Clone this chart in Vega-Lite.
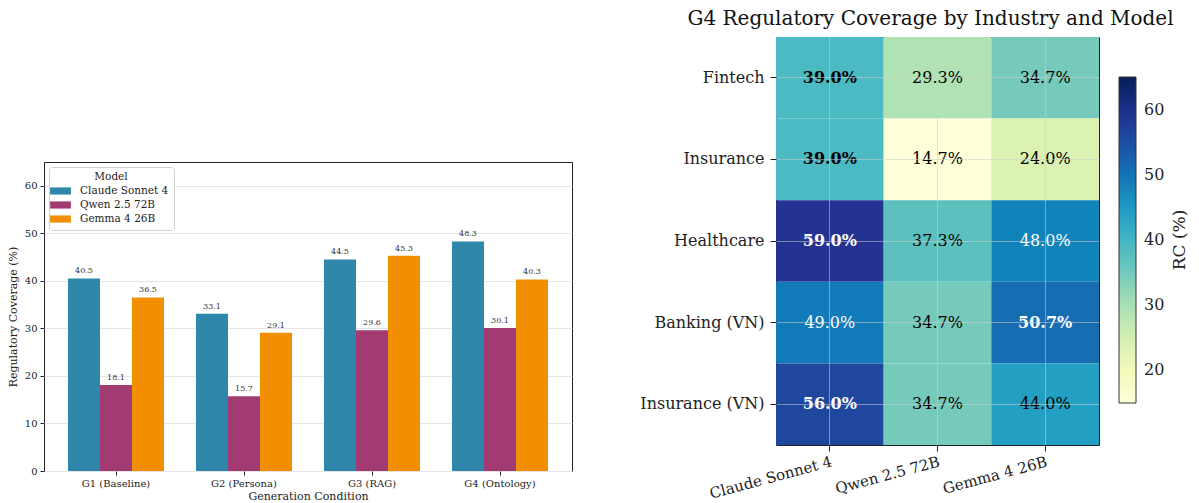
{
  "$schema": "https://vega.github.io/schema/vega-lite/v6.json",
  "padding": {"left": 6, "top": 8, "right": 0, "bottom": 0},
  "background": "white",
  "config": {
    "font": "DejaVu Serif",
    "view": {"stroke": "#222", "strokeWidth": 1},
    "axis": {"labelColor": "#222", "titleColor": "#222", "tickColor": "#222", "domainColor": "#222", "titleFontWeight": "normal"}
  },
  "datasets": {
    "bars": [
      {"condition": "G1 (Baseline)", "model": "Claude Sonnet 4", "rc": 40.5},
      {"condition": "G1 (Baseline)", "model": "Qwen 2.5 72B", "rc": 18.1},
      {"condition": "G1 (Baseline)", "model": "Gemma 4 26B", "rc": 36.5},
      {"condition": "G2 (Persona)", "model": "Claude Sonnet 4", "rc": 33.1},
      {"condition": "G2 (Persona)", "model": "Qwen 2.5 72B", "rc": 15.7},
      {"condition": "G2 (Persona)", "model": "Gemma 4 26B", "rc": 29.1},
      {"condition": "G3 (RAG)", "model": "Claude Sonnet 4", "rc": 44.5},
      {"condition": "G3 (RAG)", "model": "Qwen 2.5 72B", "rc": 29.6},
      {"condition": "G3 (RAG)", "model": "Gemma 4 26B", "rc": 45.3},
      {"condition": "G4 (Ontology)", "model": "Claude Sonnet 4", "rc": 48.3},
      {"condition": "G4 (Ontology)", "model": "Qwen 2.5 72B", "rc": 30.1},
      {"condition": "G4 (Ontology)", "model": "Gemma 4 26B", "rc": 40.3}
    ],
    "heat": [
      {"industry": "Fintech", "model": "Claude Sonnet 4", "rc": 39.0},
      {"industry": "Fintech", "model": "Qwen 2.5 72B", "rc": 29.3},
      {"industry": "Fintech", "model": "Gemma 4 26B", "rc": 34.7},
      {"industry": "Insurance", "model": "Claude Sonnet 4", "rc": 39.0},
      {"industry": "Insurance", "model": "Qwen 2.5 72B", "rc": 14.7},
      {"industry": "Insurance", "model": "Gemma 4 26B", "rc": 24.0},
      {"industry": "Healthcare", "model": "Claude Sonnet 4", "rc": 59.0},
      {"industry": "Healthcare", "model": "Qwen 2.5 72B", "rc": 37.3},
      {"industry": "Healthcare", "model": "Gemma 4 26B", "rc": 48.0},
      {"industry": "Banking (VN)", "model": "Claude Sonnet 4", "rc": 49.0},
      {"industry": "Banking (VN)", "model": "Qwen 2.5 72B", "rc": 34.7},
      {"industry": "Banking (VN)", "model": "Gemma 4 26B", "rc": 50.7},
      {"industry": "Insurance (VN)", "model": "Claude Sonnet 4", "rc": 56.0},
      {"industry": "Insurance (VN)", "model": "Qwen 2.5 72B", "rc": 34.7},
      {"industry": "Insurance (VN)", "model": "Gemma 4 26B", "rc": 44.0}
    ],
    "empty": []
  },
  "resolve": {"scale": {"color": "independent"}, "legend": {"color": "independent"}},
  "spacing": 66,
  "hconcat": [
    {
      "spacing": 0,
      "resolve": {"scale": {"color": "independent"}, "legend": {"color": "independent"}},
      "vconcat": [
        {
          "width": 20,
          "height": 124,
          "data": {"name": "empty"},
          "view": {"stroke": null},
          "mark": {"type": "rule"},
          "encoding": {}
        },
        {
          "width": 528,
          "height": 309,
          "data": {"name": "bars"},
          "encoding": {
            "x": {
              "field": "condition", "type": "nominal",
              "sort": ["G1 (Baseline)", "G2 (Persona)", "G3 (RAG)", "G4 (Ontology)"],
              "scale": {"paddingInner": 0.25, "paddingOuter": 0.1875},
              "axis": {"title": "Generation Condition", "labelAngle": 0, "labelFontSize": 10, "titleFontSize": 11, "tickSize": 4, "labelPadding": 3, "titlePadding": 2, "domain": false}
            },
            "xOffset": {
              "field": "model", "type": "nominal",
              "sort": ["Claude Sonnet 4", "Qwen 2.5 72B", "Gemma 4 26B"],
              "scale": {"paddingInner": 0, "paddingOuter": 0}
            },
            "y": {
              "field": "rc", "type": "quantitative",
              "scale": {"domain": [0, 65], "nice": false},
              "axis": {"title": "Regulatory Coverage (%)", "values": [0, 10, 20, 30, 40, 50, 60], "labelFontSize": 10, "titleFontSize": 11, "tickSize": 4, "labelPadding": 3, "titlePadding": 6, "domain": false, "grid": true, "gridColor": "#e4e4e4", "gridWidth": 1}
            }
          },
          "layer": [
            {
              "mark": {"type": "bar"},
              "encoding": {
                "color": {
                  "field": "model", "type": "nominal",
                  "sort": ["Claude Sonnet 4", "Qwen 2.5 72B", "Gemma 4 26B"],
                  "scale": {"domain": ["Claude Sonnet 4", "Qwen 2.5 72B", "Gemma 4 26B"], "range": ["#2e86ab", "#a23b72", "#f18f01"]},
                  "legend": {
                    "title": "Model", "orient": "top-left", "offset": 5,
                    "fillColor": "white", "strokeColor": "#d0d0d0", "cornerRadius": 3, "padding": 5,
                    "titleAnchor": "middle", "titleFontSize": 10.5, "titleFontWeight": "normal", "titleColor": "#222", "titlePadding": 2,
                    "labelFontSize": 10.5, "labelColor": "#222",
                    "symbolType": "M-1.6,-0.55H1.6V0.55H-1.6Z", "symbolSize": 169, "symbolStrokeWidth": 0, "symbolOpacity": 1,
                    "rowPadding": 2, "labelOffset": 13
                  }
                }
              }
            },
            {
              "mark": {"type": "text", "baseline": "bottom", "dy": -3, "fontSize": 8, "color": "#333"},
              "encoding": {"text": {"field": "rc", "type": "quantitative", "format": ".1f"}}
            }
          ]
        }
      ]
    },
    {
      "width": 323,
      "height": 408,
      "title": {"text": "G4 Regulatory Coverage by Industry and Model", "fontSize": 20, "fontWeight": "normal", "anchor": "middle", "offset": 8, "dx": -7, "color": "#111"},
      "data": {"name": "heat"},
      "transform": [{"joinaggregate": [{"op": "max", "field": "rc", "as": "rowmax"}], "groupby": ["industry"]}],
      "encoding": {
        "x": {
          "field": "model", "type": "nominal",
          "sort": ["Claude Sonnet 4", "Qwen 2.5 72B", "Gemma 4 26B"],
          "scale": {"paddingInner": 0, "paddingOuter": 0},
          "axis": {"title": null, "labelAngle": -15, "labelAlign": "right", "labelBaseline": "top", "labelFontSize": 15, "labelPadding": 3, "tickSize": 6, "domain": false, "grid": true, "bandPosition": 0.5, "gridColor": "#cccccc", "gridOpacity": 0.55, "zindex": 1}
        },
        "y": {
          "field": "industry", "type": "nominal",
          "sort": ["Fintech", "Insurance", "Healthcare", "Banking (VN)", "Insurance (VN)"],
          "scale": {"paddingInner": 0, "paddingOuter": 0},
          "axis": {"title": null, "labelFontSize": 16, "labelPadding": 6, "tickSize": 6, "domain": false, "grid": true, "bandPosition": 0.5, "gridColor": "#cccccc", "gridOpacity": 0.55, "zindex": 1}
        }
      },
      "layer": [
        {
          "mark": {"type": "rect"},
          "encoding": {
            "color": {
              "field": "rc", "type": "quantitative",
              "scale": {
                "domain": [15, 21.25, 27.5, 33.75, 40, 46.25, 52.5, 58.75, 65],
                "range": ["#ffffd9", "#edf8b1", "#c7e9b4", "#7fcdbb", "#41b6c4", "#1d91c0", "#225ea8", "#253494", "#081d58"],
                "clamp": true
              },
              "legend": {
                "title": "RC (%)", "orient": "none", "legendX": 343, "legendY": 40, "direction": "vertical",
                "gradientLength": 326, "gradientThickness": 17, "gradientStrokeColor": "#333", "gradientStrokeWidth": 1,
                "values": [20, 30, 40, 50, 60], "labelFontSize": 16, "labelColor": "#222", "labelOffset": 8,
                "titleFontSize": 17, "titleFontWeight": "normal", "titleColor": "#222", "titleOrient": "right", "titlePadding": 8,
                "encode": {"title": {"update": {"angle": {"value": -90}, "baseline": {"value": "top"}}}}
              }
            }
          }
        },
        {
          "mark": {
            "type": "text", "fontSize": 16,
            "text": {"expr": "format(datum.rc, '.1f') + '%'"},
            "fontWeight": {"expr": "datum.rc == datum.rowmax ? 'bold' : 'normal'"},
            "fill": {"expr": "datum.rc > 45 ? 'white' : 'black'"}
          },
          "encoding": {}
        }
      ]
    }
  ]
}
